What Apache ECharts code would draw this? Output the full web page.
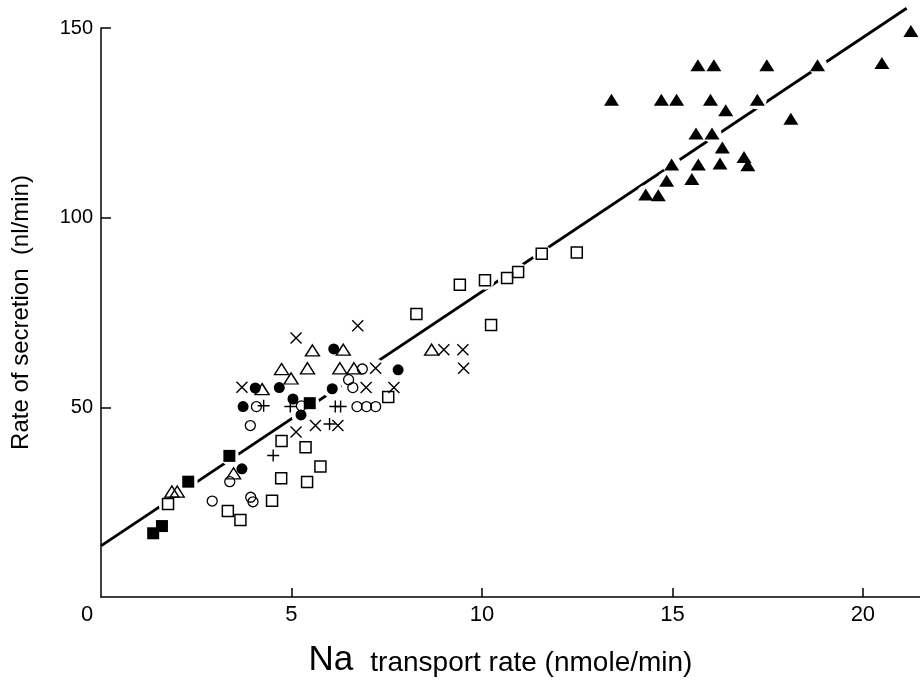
<!DOCTYPE html>
<html>
<head>
<meta charset="utf-8">
<script src="https://cdn.jsdelivr.net/npm/echarts@6/dist/echarts.min.js"></script>
<style>
html,body{margin:0;padding:0;background:#fff;}
#chart{width:920px;height:688px;}
</style>
</head>
<body>
<div id="chart"></div>
<script>
// ---- Data (Na transport rate, rate of secretion) ----
var xTickLabels = [0, 5, 10, 15, 20];
var yTickLabels = [50, 100, 150];

var filledTriangles = [
  [21.26,149.2],[15.67,140.2],[16.09,140.2],[17.48,140.2],[18.81,140.2],[20.50,140.8],
  [13.40,131.1],[14.71,131.1],[15.11,131.1],[16.00,131.1],[17.23,131.1],[16.40,128.3],
  [18.11,126.1],[15.62,122.2],[16.04,122.2],[16.31,118.5],[16.88,116.0],[16.98,113.8],
  [14.98,114.0],[15.68,114.0],[16.25,114.3],[14.85,109.7],[15.51,110.2],[14.30,106.1],
  [14.63,105.9]
];
var openSquares = [
  [1.76,24.5],[3.33,22.7],[3.66,20.3],[4.49,25.4],[4.73,31.3],[4.74,41.1],[5.37,39.5],
  [5.41,30.3],[5.76,34.4],[7.54,52.7],[8.28,74.6],[9.42,82.3],[10.08,83.5],[10.24,71.7],
  [10.66,84.1],[10.95,85.7],[11.57,90.5],[12.49,90.8]
];
var filledSquares = [[1.37,16.8],[1.60,18.7],[2.29,30.4],[3.37,37.2],[5.48,51.1]];
var filledCircles = [
  [3.73,50.2],[4.05,55.1],[4.68,55.2],[5.04,52.2],[5.25,48.0],[6.07,54.9],[6.11,65.4],
  [7.80,59.9],[3.70,33.8]
];
var openCircles = [
  [2.92,25.3],[3.38,30.4],[3.92,45.2],[3.99,25.1],[3.93,26.3],[4.08,50.2],[5.26,50.4],
  [6.50,57.3],[6.61,55.2],[6.86,60.1],[6.72,50.2],[6.97,50.2],[7.21,50.2]
];
var openTriangles = [
  [1.86,27.8],[2.00,27.8],[3.48,32.6],[4.23,54.8],[4.74,60.1],[4.99,57.6],[5.42,60.3],
  [5.55,65.0],[6.36,65.2],[6.27,60.3],[6.64,60.3],[8.68,65.2]
];
var crosses = [
  [3.70,55.3],[5.12,68.3],[5.12,43.5],[6.74,71.5],[7.21,60.3],[9.00,65.2],[9.50,65.2],
  [9.52,60.3],[6.96,55.2],[7.69,55.2],[5.63,45.2],[6.22,45.2]
];
var pluses = [[4.27,50.4],[4.97,50.2],[6.15,50.2],[6.29,50.2],[6.00,45.6],[4.52,37.3]];

var regressionLine = [[0,13.5],[21.15,155.2]];

// ---- Chart ----
var FONT = "'Liberation Sans', Arial, sans-serif";

var allPoints = [].concat(filledTriangles, openSquares, filledSquares, filledCircles,
  openCircles, openTriangles, crosses, pluses);

function openStyle(w) {
  return { color: 'rgba(0,0,0,0)', borderColor: '#000', borderWidth: w, opacity: 1 };
}
var solid = { color: '#000', opacity: 1 };

var chart = echarts.init(document.getElementById('chart'), null, {renderer: 'canvas'});
chart.setOption({
  animation: false,
  backgroundColor: '#fff',
  grid: { left: 101, right: 0, top: 28, bottom: 91, containLabel: false },
  xAxis: {
    type: 'value', min: 0, max: 21.5, interval: 5,
    name: '{a|Na}{b|transport rate (nmole/min)}',
    nameLocation: 'middle', nameGap: 46,
    nameTextStyle: {
      padding: [0, 20, 0, 0],
      rich: {
        a: { fontFamily: FONT, fontSize: 35, color: '#000' },
        b: { fontFamily: FONT, fontSize: 28, color: '#000', padding: [5, 0, 0, 17] }
      }
    },
    axisLine: { show: true, lineStyle: { color: '#000', width: 1.5 } },
    axisTick: { show: true, inside: true, length: 9, customValues: [5, 10, 15, 20],
      lineStyle: { color: '#000', width: 1.5 } },
    axisLabel: {
      customValues: xTickLabels, margin: 7, color: '#000',
      fontFamily: FONT, fontSize: 22,
      formatter: function (v) { return v === 0 ? '{z|0}' : String(v); },
      rich: { z: { fontFamily: FONT, fontSize: 22, color: '#000', padding: [0, 28, 0, 0] } }
    },
    splitLine: { show: false }
  },
  yAxis: {
    type: 'value', min: 0, max: 150, interval: 50,
    name: 'Rate of secretion  (nl/min)',
    nameLocation: 'middle', nameRotate: 90, nameGap: 68,
    nameTextStyle: { fontFamily: FONT, fontSize: 24, color: '#000' },
    axisLine: { show: true, lineStyle: { color: '#000', width: 1.5 } },
    axisTick: { show: true, inside: true, length: 10, customValues: yTickLabels,
      lineStyle: { color: '#000', width: 1.5 } },
    axisLabel: { customValues: yTickLabels, margin: 8, color: '#000',
      fontFamily: FONT, fontSize: 20 },
    splitLine: { show: false }
  },
  series: [
    {
      type: 'line', data: regressionLine, symbol: 'none', clip: false, silent: true,
      z: 1, zlevel: 0,
      lineStyle: { color: '#000', width: 2.8 }
    },
    {
      type: 'scatter', data: allPoints, symbol: 'circle', symbolSize: 19, z: 5, silent: true,
      itemStyle: { color: '#fff', opacity: 1 }
    },
    { type: 'scatter', data: filledTriangles, symbol: 'triangle', symbolSize: [15, 12], z: 10,
      silent: true, itemStyle: solid },
    { type: 'scatter', data: openSquares, symbol: 'rect', symbolSize: 11, z: 10,
      silent: true, itemStyle: openStyle(1.5) },
    { type: 'scatter', data: filledSquares, symbol: 'rect', symbolSize: 12, z: 10,
      silent: true, itemStyle: solid },
    { type: 'scatter', data: filledCircles, symbol: 'circle', symbolSize: 11, z: 10,
      silent: true, itemStyle: solid },
    { type: 'scatter', data: openCircles, symbol: 'circle', symbolSize: 10, z: 10,
      silent: true, itemStyle: openStyle(1.3) },
    { type: 'scatter', data: openTriangles, symbol: 'triangle', symbolSize: [14, 11], z: 10,
      silent: true, itemStyle: openStyle(1.4) },
    { type: 'scatter', data: crosses, symbol: 'path://M0,0L10,10M10,0L0,10', symbolSize: 11, z: 10,
      silent: true, itemStyle: openStyle(1.4) },
    { type: 'scatter', data: pluses, symbol: 'path://M5,0L5,10M0,5L10,5', symbolSize: 12, z: 10,
      silent: true, itemStyle: openStyle(1.4) }
  ]
});
</script>
</body>
</html>
